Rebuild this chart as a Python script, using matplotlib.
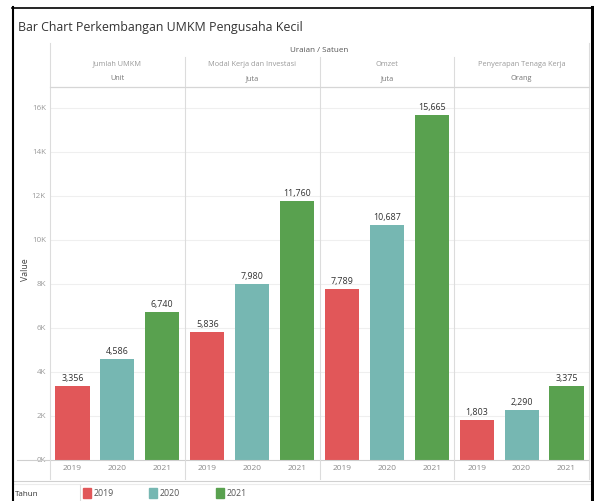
import matplotlib
matplotlib.use("Agg")
import matplotlib.pyplot as plt
from matplotlib.lines import Line2D
from matplotlib.patches import Rectangle
import matplotlib.transforms as mtransforms

categories = ["Jumlah UMKM", "Modal Kerja dan Investasi", "Omzet", "Penyerapan Tenaga Kerja"]
units = ["Unit", "Juta", "Juta", "Orang"]
years = ["2019", "2020", "2021"]
values_2019 = [3356, 5836, 7789, 1803]
values_2020 = [4586, 7980, 10687, 2290]
values_2021 = [6740, 11760, 15665, 3375]
y_ticks = [0, 2000, 4000, 6000, 8000, 10000, 12000, 14000, 16000]
y_tick_labels = ["0K", "2K", "4K", "6K", "8K", "10K", "12K", "14K", "16K"]
colors = ["#E15759", "#76B7B2", "#59A14F"]

plt.rcParams['font.family'] = ['Open Sans', 'DejaVu Sans']

W, H = 594, 501
fig = plt.figure(figsize=(W / 100, H / 100), dpi=100)
fig.patch.set_facecolor("white")

def fx(x):
    return x / W

def fy(y):
    return 1 - y / H

ax_l, ax_r, ax_t, ax_b = 50, 589, 86, 460
ax = fig.add_axes([fx(ax_l), fy(ax_b), (ax_r - ax_l) / W, (ax_b - ax_t) / H])
ax.set_xlim(-0.5, 11.5)
ax.set_ylim(0, 17000)
for s in ax.spines.values():
    s.set_visible(False)

series = [values_2019, values_2020, values_2021]
positions = []
labels = []
for ci in range(len(categories)):
    for yi, vals in enumerate(series):
        pos = ci * 3 + yi
        positions.append(pos)
        labels.append(years[yi])
        v = vals[ci]
        ax.bar(pos, v, width=0.76, color=colors[yi], zorder=3)
        ax.annotate(f"{v:,}", (pos, v), xytext=(0, 2.2), textcoords="offset points",
                    ha="center", va="bottom", fontsize=6.4, color="#333333", zorder=4)

ax.set_yticks(y_ticks, labels=y_tick_labels)
ax.set_xticks(positions, labels=labels)
ax.tick_params(axis="y", length=0, pad=3, labelsize=5.8, labelcolor="#9a9a9a")
ax.tick_params(axis="x", length=0, pad=3.5, labelsize=6, labelcolor="#8a8a8a")
for t in y_ticks[1:]:
    ax.axhline(t, color="#efefef", lw=0.8, zorder=1)

fig.text(fx(25), fy(270), "Value", rotation=90, ha="center", va="center",
         fontsize=6.3, color="#444444")

# zero line extending into the axis label area
fig.add_artist(Line2D([fx(17), fx(589)], [fy(460), fy(460)], color="#cfcfcf", lw=0.8))

# panel separators
trans = mtransforms.blended_transform_factory(ax.transData, fig.transFigure)
for xs in [2.5, 5.5, 8.5]:
    fig.add_artist(Line2D([xs, xs], [fy(57), fy(479)], transform=trans, color="#dcdcdc", lw=0.8))
fig.add_artist(Line2D([fx(50), fx(50)], [fy(43), fy(479)], color="#dcdcdc", lw=0.8))
fig.add_artist(Line2D([fx(589), fx(589)], [fy(43), fy(479)], color="#dcdcdc", lw=0.8))
# header bottom line
fig.add_artist(Line2D([fx(50), fx(589)], [fy(87), fy(87)], color="#d6d6d6", lw=0.9))

# headers
fig.text(fx(319.5), fy(50), "Uraian / Satuen", ha="center", va="center", fontsize=5.8, color="#555555")
for ci, (cat, unit) in enumerate(zip(categories, units)):
    xc = ci * 3 + 1
    fig.text(xc, fy(64), cat, transform=trans, ha="center", va="center", fontsize=5.3, color="#9a9a9a")
    fig.text(xc, fy(79), unit, transform=trans, ha="center", va="center", fontsize=5.3, color="#777777")

# title
fig.text(fx(18), fy(28), "Bar Chart Perkembangan UMKM Pengusaha Kecil", ha="left", va="center",
         fontsize=8.9, color="#333333")

# legend area
fig.add_artist(Line2D([fx(13), fx(592)], [fy(481), fy(481)], color="#d0d0d0", lw=0.8))
fig.add_artist(Line2D([fx(13), fx(592)], [fy(483.5), fy(483.5)], color="#ececec", lw=0.8))
fig.add_artist(Line2D([fx(80), fx(80)], [fy(485), fy(501)], color="#dcdcdc", lw=0.8))
fig.text(fx(15), fy(494), "Tahun", ha="left", va="center", fontsize=5.8, color="#333333")
legend_x = [83, 149, 216]
for yi, yr in enumerate(years):
    x0 = legend_x[yi]
    fig.add_artist(Rectangle((fx(x0), fy(498)), 8 / W, 10 / H, transform=fig.transFigure,
                             color=colors[yi]))
    fig.text(fx(x0 + 11), fy(493), yr, ha="left", va="center", fontsize=6.3, color="#555555")

# outer black frame
fig.add_artist(Line2D([fx(12.5), fx(12.5)], [fy(7), fy(501)], color="black", lw=1.5))
fig.add_artist(Line2D([fx(12), fx(593)], [fy(7.5), fy(7.5)], color="black", lw=1.2))
fig.add_artist(Line2D([fx(592), fx(592)], [fy(7), fy(501)], color="black", lw=2.2))

fig.savefig("out.png", dpi=100, facecolor="white")
